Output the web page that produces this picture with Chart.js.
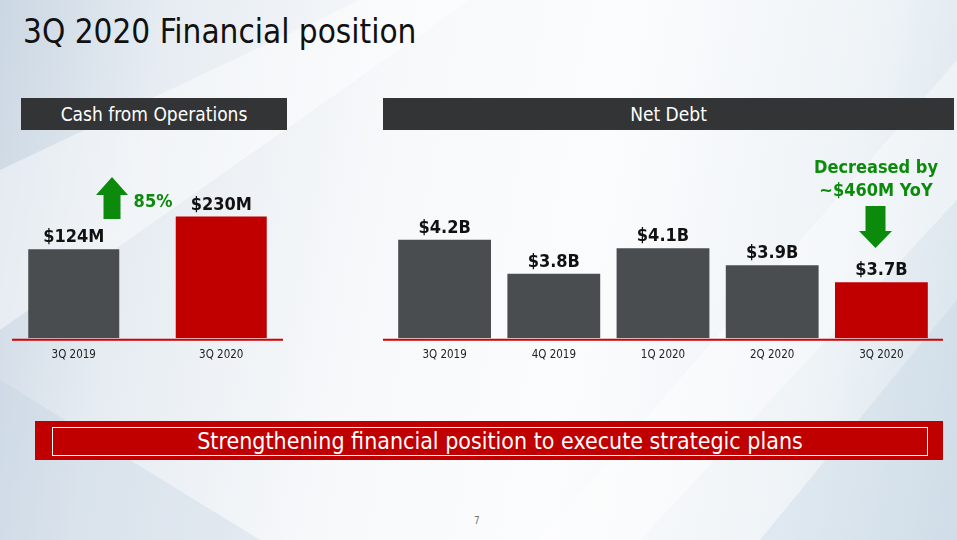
<!DOCTYPE html>
<html>
<head>
<meta charset="utf-8">
<script src="https://cdn.jsdelivr.net/npm/chart.js@4.4.0/dist/chart.umd.min.js"></script>
<style>
  body {
    margin: 0; width: 957px; height: 540px; overflow: hidden; position: relative;
    font-family: "DejaVu Sans Condensed", "DejaVu Sans", sans-serif;
    background: linear-gradient(100deg, #cbd7e3 0%, #e6ecf2 16%, #f6f8fa 38%, #fbfcfd 60%, #eef3f7 84%, #d6e2eb 100%);
  }
  .band { position: absolute; left: 0; top: 0; width: 957px; height: 540px; }
  .b1 { background: rgba(255,255,255,0.45); clip-path: polygon(0 170px, 360px 0, 470px 0, 0 330px); }
  .b2 { background: rgba(190,206,222,0.30); clip-path: polygon(0 380px, 260px 540px, 0 540px); }
  .b3 { background: rgba(255,255,255,0.40); clip-path: polygon(957px 60px, 957px 200px, 640px 540px, 540px 540px); }
  .b4 { background: rgba(195,212,226,0.35); clip-path: polygon(957px 300px, 957px 540px, 760px 540px); }
  .title { position: absolute; left: 23px; top: 15px; font-size: 33px; line-height: 33px; color: #111; }
  .hdr { position: absolute; top: 98px; height: 32px; line-height: 32px; background: #333436;
         color: #fff; font-size: 19px; text-align: center; }
  .green { position: absolute; color: #0c8a0c; font-weight: bold; font-size: 18px; text-align: center; }
  .banner { position: absolute; left: 35px; top: 421px; width: 908px; height: 39px; background: #c00000; }
  .banner div { position: absolute; left: 17px; top: 6px; width: 854px; padding-left: 20px; height: 27px; border: 1px solid #fff;
                color: #fff; font-size: 23px; line-height: 27px; text-align: center; }
  .page { position: absolute; left: 474px; top: 515px; font-size: 10px; color: #777; }
  canvas { position: absolute; }
</style>
</head>
<body>
<div class="band b1"></div>
<div class="band b2"></div>
<div class="band b3"></div>
<div class="band b4"></div>

<div class="title">3Q 2020 Financial position</div>
<div class="hdr" style="left:21px;width:266px;">Cash from Operations</div>
<div class="hdr" style="left:383px;width:571px;">Net Debt</div>

<canvas id="cashChart" width="295" height="222" style="left:0px;top:150px;"></canvas>
<canvas id="debtChart" width="566" height="222" style="left:380px;top:150px;"></canvas>

<!-- annotations -->
<svg style="position:absolute;left:96px;top:177px" width="32" height="42">
  <polygon points="16,0 32,18 24.5,18 24.5,42 7.5,42 7.5,18 0,18" fill="#0c8a0c"/>
</svg>
<div class="green" style="left:128px;top:190px;width:50px;">85%</div>

<div class="green" style="left:800px;top:155px;width:152px;line-height:23px;">Decreased by<br>~$460M YoY</div>
<svg style="position:absolute;left:859px;top:206px" width="33" height="42">
  <polygon points="6.5,0 26.5,0 26.5,25 33,25 16.5,42 0,25 6.5,25" fill="#0c8a0c"/>
</svg>

<div class="banner"><div>Strengthening financial position to execute strategic plans</div></div>
<div class="page">7</div>

<script>
// Cash from Operations ($M)
const cashLabels = ['3Q 2019', '3Q 2020'];
const cashValues = [124, 230];

// Net Debt ($B)
const debtLabels = ['3Q 2019', '4Q 2019', '1Q 2020', '2Q 2020', '3Q 2020'];
const debtValues = [4.2, 3.8, 4.1, 3.9, 3.7];

const GREY = '#4a4d50';
const RED = '#c00000';
const FONT = '"DejaVu Sans Condensed", "DejaVu Sans", sans-serif';

// value above each bar
function valueLabels(fmt) {
    return {
        id: 'valueLabels',
        afterDatasetsDraw(chart) {
            const ctx = chart.ctx;
            const meta = chart.getDatasetMeta(0);
            ctx.save();
            ctx.font = 'bold 18px ' + FONT;
            ctx.fillStyle = '#111';
            ctx.textAlign = 'center';
            ctx.textBaseline = 'alphabetic';
            meta.data.forEach((bar, i) => {
                ctx.fillText(fmt(chart.data.datasets[0].data[i]), bar.x, bar.y - 7);
            });
            ctx.restore();
        }
    };
}

// red base line, a bit longer/shorter than the plot area
function baseLine(extLeft, extRight) {
    return {
        id: 'baseLine',
        afterDatasetsDraw(chart) {
            const { ctx, chartArea } = chart;
            ctx.save();
            ctx.strokeStyle = '#d40000';
            ctx.lineWidth = 2;
            ctx.beginPath();
            ctx.moveTo(chartArea.left - extLeft, chartArea.bottom + 1.5);
            ctx.lineTo(chartArea.right + extRight, chartArea.bottom + 1.5);
            ctx.stroke();
            ctx.restore();
        }
    };
}

function makeChart(id, labels, values, yMin, yMax, barPct, pad, ext, fmt) {
    const colors = values.map((v, i) => i === values.length - 1 ? RED : GREY);
    return new Chart(document.getElementById(id), {
        type: 'bar',
        data: {
            labels: labels,
            datasets: [{
                data: values,
                backgroundColor: colors,
                base: yMin,
                barPercentage: barPct,
                categoryPercentage: 1,
                borderWidth: 0
            }]
        },
        options: {
            responsive: false,
            animation: false,
            layout: { padding: { left: pad, right: pad, top: 0, bottom: 0 } },
            plugins: { legend: { display: false }, tooltip: { enabled: false } },
            scales: {
                x: {
                    grid: { display: false, drawTicks: false },
                    border: { display: false },
                    ticks: { color: '#222', font: { family: FONT, size: 11.5 }, padding: 10 }
                },
                y: { display: false, min: yMin, max: yMax }
            }
        },
        plugins: [valueLabels(fmt), baseLine(ext[0], ext[1])]
    });
}

makeChart('cashChart', cashLabels, cashValues, -165, 446, 0.617, 0, [-12, -12], v => '$' + v + 'M');
makeChart('debtChart', debtLabels, debtValues, 3.04, 5.26, 0.85, 10, [7, 7], v => '$' + v.toFixed(1) + 'B');
</script>
</body>
</html>
